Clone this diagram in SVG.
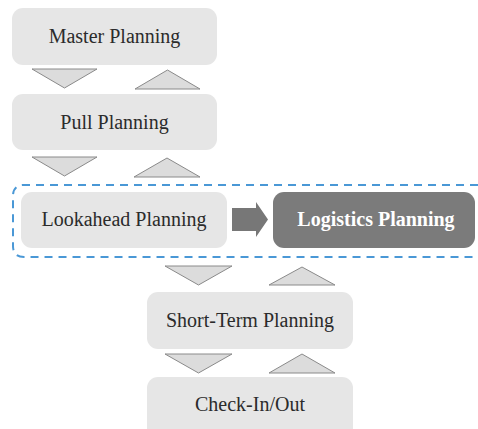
<svg xmlns="http://www.w3.org/2000/svg" width="478" height="429" viewBox="0 0 478 429">
  <style>
    .box { fill: #e6e6e6; }
    .dark { fill: #7b7b7b; }
    .lbl { font-family: "Liberation Serif", "Times New Roman", serif; font-size: 20px; fill: #2b2b2b; text-anchor: middle; }
    .lbl-b { font-family: "Liberation Serif", "Times New Roman", serif; font-size: 20px; font-weight: bold; fill: #ffffff; text-anchor: middle; }
    .tri { fill: #dcdcdc; stroke: #8a8a8a; stroke-width: 1; }
    .group { fill: none; stroke: #4a98d6; stroke-width: 2; stroke-dasharray: 8 6; }
    .arrow { fill: #777777; }
  </style>
  <rect width="478" height="429" fill="#ffffff"/>

  <!-- dashed frame around the lookahead/logistics pair -->
  <path class="group" d="M 478 185 L 24 185 Q 13 185 13 196 L 13 246 Q 13 257 24 257 L 478 257"/>

  <g id="master">
    <rect class="box" x="12" y="8" width="205" height="57" rx="11"/>
    <text class="lbl" x="114.5" y="43">Master Planning</text>
  </g>
  <g id="pull">
    <rect class="box" x="12" y="94" width="205" height="56" rx="11"/>
    <text class="lbl" x="114.5" y="129">Pull Planning</text>
  </g>
  <g id="lookahead">
    <rect class="box" x="21" y="192" width="206" height="56" rx="11"/>
    <text class="lbl" x="124" y="226">Lookahead Planning</text>
  </g>
  <g id="logistics">
    <rect class="dark" x="273" y="192" width="202" height="56" rx="11"/>
    <text class="lbl-b" x="376" y="226">Logistics Planning</text>
  </g>
  <g id="shortterm">
    <rect class="box" x="147" y="292" width="206" height="57" rx="11"/>
    <text class="lbl" x="250" y="327">Short-Term Planning</text>
  </g>
  <g id="checkinout">
    <rect class="box" x="147" y="377" width="206" height="70" rx="11"/>
    <text class="lbl" x="250" y="411">Check-In/Out</text>
  </g>

  <g id="connectors">
    <!-- master <-> pull -->
    <polygon class="tri" points="32,69 97,69 64.5,88"/>
    <polygon class="tri" points="135,89 200,89 167.5,70"/>
    <!-- pull <-> lookahead -->
    <polygon class="tri" points="32,157 97,157 64.5,176"/>
    <polygon class="tri" points="134,177 200,177 167,158"/>
    <!-- lookahead -> logistics -->
    <polygon class="arrow" points="232,208 256,208 256,202 268,219.5 256,237 256,231 232,231"/>
    <!-- lookahead <-> short-term -->
    <polygon class="tri" points="165,266 232,266 198.5,285"/>
    <polygon class="tri" points="269,285 335,285 302,267"/>
    <!-- short-term <-> check-in/out -->
    <polygon class="tri" points="165,354 232,354 198.5,373"/>
    <polygon class="tri" points="269,373 335,373 302,354"/>
  </g>
</svg>
